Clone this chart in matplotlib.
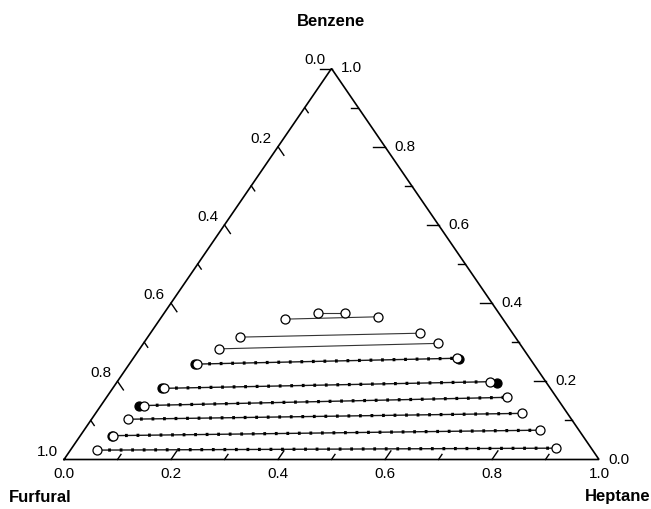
import numpy as np
import matplotlib
matplotlib.use('Agg')
import matplotlib.pyplot as plt
import matplotlib.transforms as mtransforms
from matplotlib import rcParams

########################################################################
# Setup plot environment
########################################################################
rcParams['font.family'] = 'sans-serif'
rcParams['font.sans-serif'] = ['Liberation Sans', 'Arial', 'DejaVu Sans']
rcParams['lines.scale_dashes'] = False

tick_size = 11
title_size = 12

########################################################################
# Data: tie lines (mass fractions), furfural-rich end -> heptane-rich end
########################################################################
heptane_left = [0.288, 0.234, 0.173, 0.149, 0.126, 0.095, 0.081, 0.069, 0.062, 0.049]
benzene_left = [0.375, 0.359, 0.313, 0.283, 0.244, 0.182, 0.138, 0.103, 0.061, 0.024]
heptane_right = [0.338, 0.405, 0.503, 0.551, 0.606, 0.696, 0.748, 0.798, 0.852, 0.905]
benzene_right = [0.375, 0.365, 0.323, 0.297, 0.259, 0.199, 0.159, 0.118, 0.075, 0.029]
dotted = [False, False, False, False, True, True, True, True, True, True]

# experimental points that peek out behind the open symbols
exp_heptane = [0.123, 0.609, 0.092, 0.711, 0.073, 0.060]
exp_benzene = [0.243, 0.258, 0.182, 0.195, 0.136, 0.061]

tick_labels = ['0.0', '0.2', '0.4', '0.6', '0.8', '1.0']


def tern(h, b):
    # heptane / benzene fractions -> x, y inside the triangle
    h = np.asarray(h, dtype=float)
    b = np.asarray(b, dtype=float)
    return h + 0.5 * b, b


########################################################################
# PLOT
########################################################################
fig = plt.figure(figsize=(6.51, 5.09), dpi=100)
ax = fig.add_axes([64 / 651, 49.5 / 509, 535 / 651, 391 / 509])
ax.set_xlim(0, 1)
ax.set_ylim(0, 1)
ax.axis('off')

# triangle frame
ax.plot([0, 1, 0.5, 0], [0, 0, 1, 0], color='black', lw=1.2,
        solid_joinstyle='miter', clip_on=False, zorder=2)

# ticks along the grid directions, pointing inward
for i in range(1, 10):
    v = i / 10
    L = 0.022 if i % 2 == 0 else 0.013
    # bottom (heptane)
    x, y = tern([v, v], [0, L])
    ax.plot(x, y, color='black', lw=1.0, clip_on=False)
    # left (furfural)
    x, y = tern([0, L], [1 - v, 1 - v - L])
    ax.plot(x, y, color='black', lw=1.0, clip_on=False)
    # right (benzene)
    x, y = tern([1 - v, 1 - v - L], [v, v])
    ax.plot(x, y, color='black', lw=1.0, clip_on=False)
x, y = tern([0, -0.022], [1, 1])
ax.plot(x, y, color='black', lw=1.0, clip_on=False)

# tick labels
for k, lab in enumerate(tick_labels):
    v = k / 5
    tb = mtransforms.offset_copy(ax.transData, fig=fig, x=0, y=-14, units='dots')
    x, y = tern(v, 0)
    ax.text(x, y, lab, transform=tb, ha='center', va='center', fontsize=tick_size)
    tl = mtransforms.offset_copy(ax.transData, fig=fig, x=-17, y=8, units='dots')
    x, y = tern(0, 1 - v)
    ax.text(x, y, lab, transform=tl, ha='center', va='center', fontsize=tick_size)
    tr = mtransforms.offset_copy(ax.transData, fig=fig, x=20, y=0, units='dots')
    x, y = tern(1 - v, v)
    ax.text(x, y, lab, transform=tr, ha='center', va='center', fontsize=tick_size)

# tie lines
for i in range(len(heptane_left)):
    x, y = tern([heptane_left[i], heptane_right[i]], [benzene_left[i], benzene_right[i]])
    if dotted[i]:
        ax.plot(x, y, color='#1a1a1a', lw=1.0, zorder=3)
        ax.plot(x, y, color='black', lw=2.3, dashes=(2.0, 6.3), zorder=3)
    else:
        ax.plot(x, y, color='#333333', lw=0.8, zorder=3)

ex, ey = tern(exp_heptane, exp_benzene)
ax.plot(ex, ey, 'o', ms=6.5, mfc='black', mec='black', mew=0.9, ls='none', zorder=4)

ox, oy = tern(heptane_left + heptane_right, benzene_left + benzene_right)
ax.plot(ox, oy, 'o', ms=6.5, mfc='white', mec='black', mew=0.9, ls='none', zorder=5)

# component names at the corners
fig.text(331 / 651, 1 - 21 / 509, 'Benzene', ha='center', va='center',
         fontsize=title_size, fontweight='bold')
fig.text(40 / 651, 1 - 497 / 509, 'Furfural', ha='center', va='center',
         fontsize=title_size, fontweight='bold')
fig.text(618 / 651, 1 - 497 / 509, 'Heptane', ha='center', va='center',
         fontsize=title_size, fontweight='bold')

fig.savefig('out.png', dpi=100)
